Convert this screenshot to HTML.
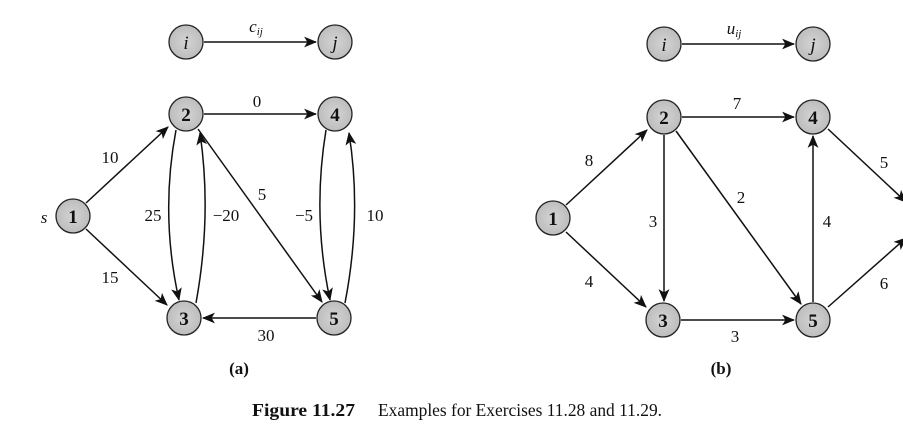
<!DOCTYPE html>
<html><head><style>
html,body{margin:0;padding:0;background:#fff;}
svg{display:block;}
text{font-family:"Liberation Serif",serif;fill:#111;}
</style></head><body>
<svg width="903" height="441" viewBox="0 0 903 441" xmlns="http://www.w3.org/2000/svg">
<defs>
<marker id="a" viewBox="0 0 12 10" refX="11" refY="5" markerWidth="13" markerHeight="11" markerUnits="userSpaceOnUse" orient="auto">
<path d="M0,0 L12,5 L0,10 L3,5 z" fill="#111"/>
</marker>
<radialGradient id="g"><stop offset="0" stop-color="#d4d4d4"/><stop offset="1" stop-color="#bdbdbd"/></radialGradient>
</defs>
<g stroke="#111" stroke-width="1.5" fill="none" marker-end="url(#a)">
<line x1="204" y1="42" x2="316" y2="42"/>
<line x1="204" y1="114" x2="316" y2="114"/>
<line x1="86" y1="203" x2="168" y2="127"/>
<line x1="86" y1="229" x2="167" y2="305"/>
<path d="M176,130 Q160,215 179,300"/>
<path d="M196,303 Q212,215 200,133"/>
<line x1="198" y1="129" x2="322" y2="302"/>
<line x1="316" y1="318" x2="203" y2="318"/>
<path d="M326,130 Q312,215 330,300"/>
<path d="M345,303 Q362,215 349,133"/>
<line x1="682" y1="44" x2="794" y2="44"/>
<line x1="682" y1="117" x2="794" y2="117"/>
<line x1="566" y1="205" x2="647" y2="130"/>
<line x1="566" y1="232" x2="646" y2="307"/>
<line x1="664" y1="135" x2="664" y2="301"/>
<line x1="676" y1="131" x2="801" y2="304"/>
<line x1="681" y1="320" x2="794" y2="320"/>
<line x1="813" y1="302" x2="813" y2="136"/>
<line x1="828" y1="129" x2="906" y2="202"/>
<line x1="828" y1="307" x2="906" y2="238"/>
</g>
<g fill="url(#g)" stroke="#222" stroke-width="1.3">
<circle cx="186" cy="42" r="17"/><circle cx="335" cy="42" r="17"/>
<circle cx="186" cy="114" r="17"/><circle cx="335" cy="114" r="17"/>
<circle cx="73" cy="216" r="17"/><circle cx="184" cy="318" r="17"/><circle cx="334" cy="318" r="17"/>
<circle cx="664" cy="44" r="17"/><circle cx="813" cy="44" r="17"/>
<circle cx="664" cy="117" r="17"/><circle cx="813" cy="117" r="17"/>
<circle cx="553" cy="218" r="17"/><circle cx="663" cy="320" r="17"/><circle cx="813" cy="320" r="17"/>
</g>
<g font-size="19" text-anchor="middle">
<text x="186" y="49" font-style="italic">i</text><text x="335" y="49" font-style="italic">j</text>
<text x="186" y="121" font-weight="bold">2</text><text x="335" y="121" font-weight="bold">4</text>
<text x="73" y="223" font-weight="bold">1</text><text x="184" y="325" font-weight="bold">3</text><text x="334" y="325" font-weight="bold">5</text>
<text x="664" y="51" font-style="italic">i</text><text x="813" y="51" font-style="italic">j</text>
<text x="664" y="124" font-weight="bold">2</text><text x="813" y="124" font-weight="bold">4</text>
<text x="553" y="225" font-weight="bold">1</text><text x="663" y="327" font-weight="bold">3</text><text x="813" y="327" font-weight="bold">5</text>
</g>
<g font-size="17" text-anchor="middle">
<text x="256" y="32" font-style="italic">c<tspan font-size="11" dy="3">ij</tspan></text>
<text x="44" y="223" font-style="italic">s</text>
<text x="257" y="107">0</text>
<text x="110" y="163">10</text>
<text x="110" y="283">15</text>
<text x="153" y="221">25</text>
<text x="226" y="221">−20</text>
<text x="262" y="200">5</text>
<text x="304" y="221">−5</text>
<text x="375" y="221">10</text>
<text x="266" y="341">30</text>
<text x="734" y="34" font-style="italic">u<tspan font-size="11" dy="3">ij</tspan></text>
<text x="737" y="109">7</text>
<text x="589" y="166">8</text>
<text x="589" y="287">4</text>
<text x="653" y="227">3</text>
<text x="741" y="203">2</text>
<text x="827" y="227">4</text>
<text x="884" y="168">5</text>
<text x="884" y="289">6</text>
<text x="735" y="342">3</text>
<text x="239" y="374" font-weight="bold">(a)</text>
<text x="721" y="374" font-weight="bold">(b)</text>
</g>
<text y="416" font-size="17.5"><tspan x="252" font-weight="bold" textLength="103" lengthAdjust="spacingAndGlyphs">Figure 11.27</tspan><tspan x="378" textLength="284" lengthAdjust="spacingAndGlyphs">Examples for Exercises 11.28 and 11.29.</tspan></text>
</svg>
</body></html>
